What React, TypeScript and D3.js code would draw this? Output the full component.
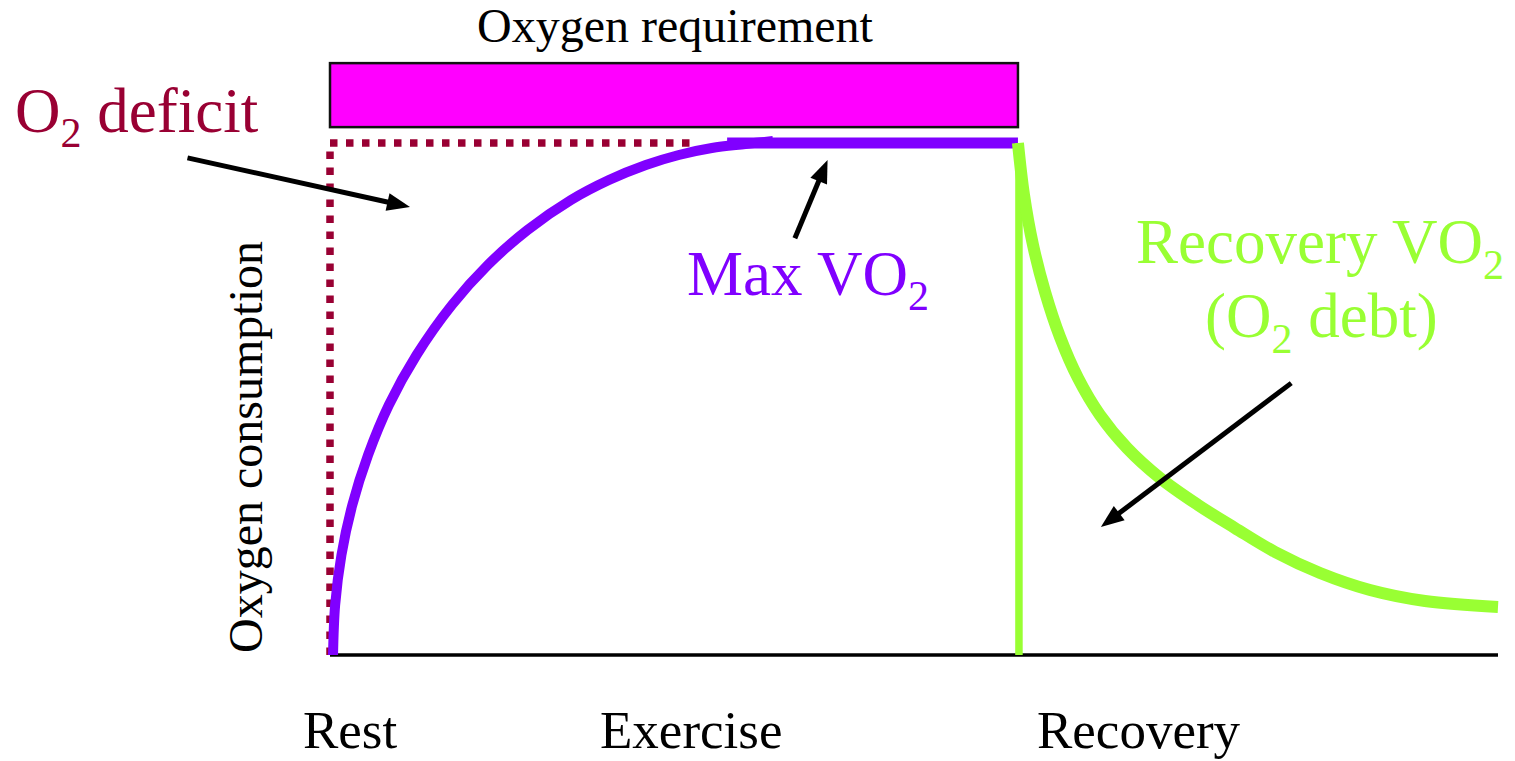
import { useMemo } from "react";
import * as d3 from "d3";

// values in chart units: x = time (0..100), y = oxygen uptake (0..100, 100 = max VO2)
const exerciseEnd = 58.9;
const maxVO2 = 100;
const requirementBand = [103.1, 115.6];
const deficitDotEnd = 31.5;
const plateauStart = 34.0;

const exerciseX = [0.26, 0.44, 0.98, 1.91, 3.26, 5.04, 7.41, 10.44, 13.51, 16.91, 20.63, 23.88, 27.04, 29.86, 32.69, 35.57, 37.93];
const exerciseY = [0, 9.77, 19.53, 29.3, 39.06, 48.83, 58.59, 68.36, 76.17, 83.01, 88.87, 92.77, 95.7, 97.66, 99.02, 99.8, 100.4];

const recoveryX = [58.9, 59.42, 60.19, 61.22, 62.5, 64.04, 65.92, 68.24, 71.06, 74.32, 77.48, 80.91, 84.76, 89.04, 93.75, 100];
const recoveryY = [100, 89.84, 80.08, 70.9, 62.11, 54.1, 46.88, 40.43, 34.57, 29.3, 24.8, 20.12, 16.02, 12.7, 10.55, 9.38];

const phaseLabels = ["Rest", "Exercise", "Recovery"];
const phaseLabelX = [303, 600, 1037];

// arrows: [x1, y1, x2 (tip), y2 (tip)] in chart units
const arrows = [
  [-12.2, 97.1, 6.85, 87.5],
  [39.8, 81.4, 42.6, 96.7],
  [82.3, 53.1, 66.0, 25.0],
];

const W = 1515, H = 761;
const FONT = "'Liberation Serif', 'Times New Roman', serif";
const MAROON = "#990033", PINK = "#ff00ff", PURPLE = "#8000ff", GREEN = "#99ff33";

export default function App() {
  const x = d3.scaleLinear().domain([0, 100]).range([330, 1498]);
  const y = d3.scaleLinear().domain([0, 100]).range([655, 143]);

  const paths = useMemo(() => {
    const line = d3
      .line<[number, number]>()
      .x((d) => x(d[0]))
      .y((d) => y(d[1]))
      .curve(d3.curveCatmullRom.alpha(0.5));
    const ex = exerciseX.map((v, i) => [v, exerciseY[i]] as [number, number]);
    const rec = recoveryX.map((v, i) => [v, recoveryY[i]] as [number, number]);
    return { ex: line(ex) || "", rec: line(rec) || "" };
  }, []);

  const arrowHead = (a: number[]) => {
    const x1 = x(a[0]), y1 = y(a[1]), x2 = x(a[2]), y2 = y(a[3]);
    const ang = Math.atan2(y2 - y1, x2 - x1);
    const len = 23, hw = 9;
    const bx = x2 - len * Math.cos(ang), by = y2 - len * Math.sin(ang);
    const px = -Math.sin(ang) * hw, py = Math.cos(ang) * hw;
    return {
      line: { x1, y1, x2: bx + 2 * Math.cos(ang), y2: by + 2 * Math.sin(ang) },
      head: `${x2},${y2} ${bx + px},${by + py} ${bx - px},${by - py}`,
    };
  };

  return (
    <svg
      width={W}
      height={H}
      style={{ position: "absolute", left: 0, top: 0, display: "block", background: "#fff" }}
      fontFamily={FONT}
    >
      {/* oxygen requirement bar */}
      <rect
        x={x(0)}
        y={y(requirementBand[1])}
        width={x(exerciseEnd) - x(0)}
        height={y(requirementBand[0]) - y(requirementBand[1])}
        fill={PINK}
        stroke="#111"
        strokeWidth={2.5}
      />
      <text x={675} y={42} fontSize={48} textAnchor="middle" fill="#000">
        Oxygen requirement
      </text>

      {/* deficit dotted outline */}
      <path
        d={`M${x(0)},${y(0)}V${y(maxVO2)}H${x(deficitDotEnd)}`}
        fill="none"
        stroke={MAROON}
        strokeWidth={7.5}
        strokeDasharray="7.5 8.5"
      />

      {/* baseline */}
      <line x1={x(0)} x2={x(100)} y1={y(0)} y2={y(0)} stroke="#000" strokeWidth={3.5} />

      {/* exercise uptake */}
      <path d={paths.ex} fill="none" stroke={PURPLE} strokeWidth={10} />
      <line
        x1={x(plateauStart)}
        x2={x(exerciseEnd)}
        y1={y(maxVO2)}
        y2={y(maxVO2)}
        stroke={PURPLE}
        strokeWidth={11}
      />

      {/* recovery */}
      <line
        x1={x(exerciseEnd) + 1}
        x2={x(exerciseEnd) + 1}
        y1={y(0)}
        y2={y(maxVO2)}
        stroke={GREEN}
        strokeWidth={7.5}
      />
      <path d={paths.rec} fill="none" stroke={GREEN} strokeWidth={12} />

      {/* arrows */}
      {arrows.map((a, i) => {
        const h = arrowHead(a);
        return (
          <g key={i}>
            <line {...h.line} stroke="#000" strokeWidth={5} />
            <polygon points={h.head} fill="#000" />
          </g>
        );
      })}

      {/* labels */}
      <text x={15} y={132} fontSize={63} fill={MAROON}>
        O<tspan fontSize={42} dy={15}>2</tspan>
        <tspan dy={-15}> deficit</tspan>
      </text>
      <text x={687} y={295} fontSize={63} fill={PURPLE}>
        Max VO<tspan fontSize={42} dy={15}>2</tspan>
      </text>
      <text x={1136} y={263} fontSize={63} fill={GREEN}>
        Recovery VO<tspan fontSize={42} dy={16}>2</tspan>
      </text>
      <text x={1205} y={337} fontSize={63} fill={GREEN}>
        (O<tspan fontSize={42} dy={16}>2</tspan>
        <tspan dy={-16}> debt)</tspan>
      </text>

      <text
        transform={`translate(262,447) rotate(-90)`}
        fontSize={48}
        textAnchor="middle"
        fill="#000"
      >
        Oxygen consumption
      </text>

      {phaseLabels.map((t, i) => (
        <text key={t} x={phaseLabelX[i]} y={748} fontSize={53} fill="#000">
          {t}
        </text>
      ))}
    </svg>
  );
}
